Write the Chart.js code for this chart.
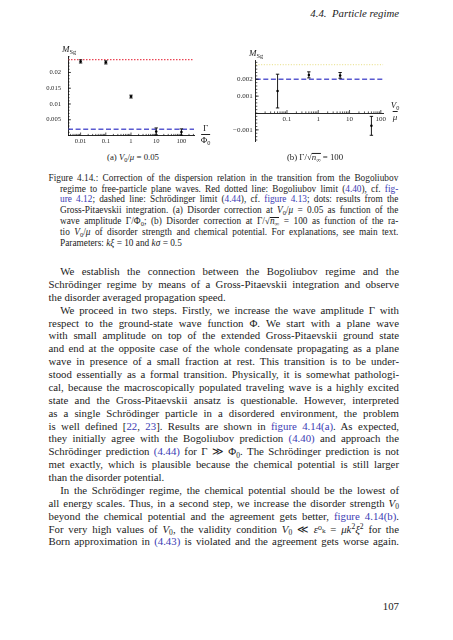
<!DOCTYPE html>
<html lang="en"><head><meta charset="utf-8">
<title>Figure 4.14</title>
<script src="https://cdn.jsdelivr.net/npm/chart.js@4.4.1/dist/chart.umd.min.js"></script>
<style>
html,body{margin:0;padding:0;background:#fff;}
body{width:453px;height:640px;position:relative;overflow:hidden;font-family:"Liberation Serif","Times New Roman",serif;color:#1c1c1c;}
canvas{position:absolute;}
.ln{position:absolute;white-space:normal;overflow:visible;}
.ln.j{text-align:justify;text-align-last:justify;}
.ln.l{text-align:left;text-align-last:left;}
.ln.meas{text-align:left !important;text-align-last:left !important;}
.bd{font-size:10.8px;line-height:13px;height:13px;}
.cp{font-size:9.3px;line-height:11px;height:11px;}
.lk{color:#3b3bb3;}
sub{font-size:70%;vertical-align:baseline;position:relative;top:0.3em;line-height:0;}
sup{font-size:70%;vertical-align:baseline;position:relative;top:-0.42em;line-height:0;}
.ov{display:inline-block;line-height:0.78em;border-top:0.7px solid currentColor;padding-top:0.4px;}
.idx{font-family:"DejaVu Serif",serif;font-size:90%;}
.lab{position:absolute;white-space:nowrap;line-height:1;}
.frac{position:absolute;display:flex;flex-direction:column;align-items:center;line-height:1;transform:translateX(-50%);font-size:9px;}
.frac .den{border-top:0.8px solid #222;padding-top:1px;margin-top:1px;}
</style></head>
<body>
<div class="lab" id="hdr" style="right:54px;top:8px;font-size:10.8px;font-style:italic;">4.4.&nbsp; Particle regime</div>

<canvas id="ca" width="230" height="112" style="left:0px;top:40px;"></canvas>
<canvas id="cb" width="233" height="115" style="left:220px;top:40px;"></canvas>

<div class="lab" style="left:62px;top:45px;font-size:9px;"><i>M</i><sub>Sg</sub></div>
<div class="frac" style="left:205.5px;top:124px;"><span>Γ</span><span class="den">Φ<sub>0</sub></span></div>
<div class="lab" style="left:249px;top:49px;font-size:9px;"><i>M</i><sub>Sg</sub></div>
<div class="frac" style="left:395px;top:101px;"><span><i>V</i><sub>0</sub></span><span class="den"><i>μ</i></span></div>

<div class="lab" style="left:133px;top:157.7px;font-size:8.8px;transform:translate(-50%,-55%);">(a) <i>V</i><sub>0</sub>/<i>μ</i> = 0.05</div>
<div class="lab" style="left:315px;top:157.7px;font-size:8.8px;transform:translate(-50%,-55%);">(b) Γ/√<span class="ov"><i>n</i><sub>∞</sub></span> = 100</div>

<div id="text"></div>
<div class="lab" style="right:54px;top:601px;font-size:10.8px;">107</div>

<script>
// ---------- chart data ----------
const catA = [0.01, 0.1, 1, 10, 100];              // Γ/Φ0
const valA = [0.0235, 0.0232, 0.01235, 0.0013, 0.0011];
const errA = [0.0005, 0.0005, 0.00045, 0.0011, 0.001];
const bogA = 0.0241;                               // red dotted (Bogoliubov limit)
const schA = 0.002;                                // blue dashed (Schrödinger limit)
const xTicksA = [0.01, 0.1, 1, 10, 100];
const xLabelsA = ['0.01', '0.1', '1', '10', '100'];
const yTicksA = [0.005, 0.01, 0.015, 0.02];
const yLabelsA = ['0.005', '0.01', '0.015', '0.02'];
const xRangeA = [0.00316, 316];
const yRangeA = [0, 0.025];

const catB = [0.05, 0.5, 5, 50];                   // V0/μ
const valB = [0.0013, 0.00226, 0.00223, -0.00076];
const errB = [0.001, 0.00018, 0.00017, 0.00056];
const bogB = 0.00287;                              // faint yellow dotted
const schB = 0.002;                                // blue dashed
const xTicksB = [0.1, 1, 10, 100];
const xLabelsB = ['0.1', '1', '10', '100'];
const yTicksB = [-0.001, 0.001, 0.002];
const yLabelsB = ['\u22120.001', '0.001', '0.002'];
const xRangeB = [0.01, 120];
const yRangeB = [-0.0017, 0.0031];

const RED = '#ea4656', BLUE = '#5a5ad0', YEL = '#ece5a0';

function minorLog(r){const o=[];for(let e=Math.floor(Math.log10(r[0]));e<=Math.ceil(Math.log10(r[1]));e++){for(let m=2;m<=9;m++){const v=m*Math.pow(10,e);if(v>r[0]&&v<r[1])o.push(v);}}return o;}
function minorLin(r,s){const o=[];for(let k=Math.ceil(r[0]/s);k*s<=r[1];k++)o.push(k*s);return o;}

const errPlugin = {
  id:'errbars',
  afterDatasetsDraw(chart){
    const ctx = chart.ctx, ys = chart.scales.y;
    chart.data.datasets.forEach((ds,i)=>{
      if(!ds.errors) return;
      const meta = chart.getDatasetMeta(i);
      ctx.save(); ctx.strokeStyle='#000'; ctx.lineWidth=0.9;
      meta.data.forEach((pt,j)=>{
        const v = ds.data[j].y, e = ds.errors[j];
        const y1 = ys.getPixelForValue(v+e), y2 = ys.getPixelForValue(v-e), x = pt.x;
        ctx.beginPath();
        ctx.moveTo(x,y1); ctx.lineTo(x,y2);
        ctx.moveTo(x-1.7,y1); ctx.lineTo(x+1.7,y1);
        ctx.moveTo(x-1.7,y2); ctx.lineTo(x+1.7,y2);
        ctx.stroke();
      });
      ctx.restore();
    });
  }
};
const tickPlugin = {
  id:'mmaTicks',
  afterDraw(chart, args, o){
    if(!o || !o.xMajor) return;
    const ctx = chart.ctx, xs = chart.scales.x, ys = chart.scales.y;
    const y0 = ys.getPixelForValue(o.xAxisAt), x0 = chart.chartArea.left;
    ctx.save(); ctx.strokeStyle='#111'; ctx.lineWidth=0.7; ctx.beginPath();
    o.xMajor.forEach(v=>{const x=xs.getPixelForValue(v);ctx.moveTo(x,y0);ctx.lineTo(x,y0-3);});
    o.xMinor.forEach(v=>{const x=xs.getPixelForValue(v);ctx.moveTo(x,y0);ctx.lineTo(x,y0-1.6);});
    o.yMajor.forEach(v=>{const y=ys.getPixelForValue(v);ctx.moveTo(x0,y);ctx.lineTo(x0+3,y);});
    o.yMinor.forEach(v=>{const y=ys.getPixelForValue(v);ctx.moveTo(x0,y);ctx.lineTo(x0+1.6,y);});
    ctx.stroke(); ctx.restore();
  }
};

function makeChart(id, p){
  return new Chart(document.getElementById(id), {
    type:'scatter',
    data:{datasets:[
      ...p.lines.map(l=>({data:[{x:p.xr[0],y:l.v},{x:p.xr[1],y:l.v}], showLine:true, borderColor:l.c, borderWidth:l.w, borderDash:l.d, pointRadius:0, order:3})),
      {data:p.cat.map((x,i)=>({x, y:p.val[i]})), errors:p.err, pointRadius:1.25, pointBackgroundColor:'#000', pointBorderWidth:0, order:1}
    ]},
    options:{
      responsive:false, animation:false, events:[],
      layout:{autoPadding:false, padding:p.pad},
      plugins:{legend:{display:false}, tooltip:{enabled:false}, mmaTicks:p.ticks},
      scales:{
        x:{type:'logarithmic', min:p.xr[0], max:p.xr[1], position:p.xpos,
           afterBuildTicks:s=>{s.ticks=p.xt.map(v=>({value:v}));},
           afterFit:s=>{s.height=p.xh;},
           grid:{display:false, drawTicks:false}, border:{display:true, color:'#111', width:0.9},
           ticks:{autoSkip:false, maxRotation:0, padding:p.xpadT, color:'#2a2a2a', font:{family:'Liberation Serif', size:p.fs}, callback:(v,i)=>p.xl[i]}},
        y:{type:'linear', min:p.yr[0], max:p.yr[1], position:'left',
           afterBuildTicks:s=>{s.ticks=p.yt.map(v=>({value:v}));},
           afterFit:s=>{s.width=p.yw;},
           grid:{display:false, drawTicks:false}, border:{display:true, color:'#111', width:0.9},
           ticks:{autoSkip:false, padding:p.ypadT, color:'#2a2a2a', font:{family:'Liberation Serif', size:p.fs}, callback:(v,i)=>p.yl[i]}}
      }
    },
    plugins:[errPlugin, tickPlugin]
  });
}

makeChart('ca', {cat:catA, val:valA, err:errA, xr:xRangeA, yr:yRangeA, xt:xTicksA, xl:xLabelsA, yt:yTicksA, yl:yLabelsA,
  lines:[{v:bogA,c:RED,w:1.3,d:[1.5,1.5]},{v:schA,c:BLUE,w:1.5,d:[5,2.6]}],
  pad:{left:0, top:16.7, right:36, bottom:0}, xh:16.5, yw:68, xpos:'bottom', fs:6.6, xpadT:1.5, ypadT:7,
  ticks:{xAxisAt:0, xMajor:xTicksA, xMinor:minorLog(xRangeA), yMajor:yTicksA, yMinor:minorLin(yRangeA,0.001)}});

makeChart('cb', {cat:catB, val:valB, err:errB, xr:xRangeB, yr:yRangeB, xt:xTicksB, xl:xLabelsB, yt:yTicksB, yl:yLabelsB,
  lines:[{v:bogB,c:YEL,w:1.1,d:[1.1,1.6]},{v:schB,c:BLUE,w:1.5,d:[5,2.6]}],
  pad:{left:0, top:20.7, right:69.7, bottom:13.3}, xh:0, yw:35.7, xpos:{y:0}, fs:7, xpadT:1.5, ypadT:3,
  ticks:{xAxisAt:0, xMajor:xTicksB, xMinor:minorLog(xRangeB), yMajor:yTicksB, yMinor:minorLin(yRangeB,0.0002)}});

// ---------- text ----------
const V0 = '<i>V</i><sub>0</sub>';
const LK = s => '<span class="lk">'+s+'</span>';
const SQ = '√<span class="ov"><i>n</i><sub>∞</sub></span>';
const captionLines = [
 ['f','Figure 4.14.: Correction of the dispersion relation in the transition from the Bogoliubov'],
 ['c','regime to free-particle plane waves. Red dotted line: Bogoliubov limit ('+LK('4.40')+'), cf. '+LK('fig-')],
 ['c',LK('ure 4.12')+'; dashed line: Schrödinger limit ('+LK('4.44')+'), cf. '+LK('figure 4.13')+'; dots: results from the'],
 ['c','Gross-Pitaevskii integration. (a) Disorder correction at '+V0+'/<i>μ</i> = 0.05 as function of the'],
 ['c','wave amplitude Γ/Φ<sub>0</sub>; (b) Disorder correction at Γ/'+SQ+' = 100 as function of the ra-'],
 ['c','tio '+V0+'/<i>μ</i> of disorder strength and chemical potential. For explanations, see main text.'],
 ['cl','Parameters: <i>kξ</i> = 10 and <i>kσ</i> = 0.5']
];
const bodyLines = [
 ['i','We establish the connection between the Bogoliubov regime and the'],
 ['j','Schrödinger regime by means of a Gross-Pitaevskii integration and observe'],
 ['l','the disorder averaged propagation speed.'],
 ['i','We proceed in two steps. Firstly, we increase the wave amplitude Γ with'],
 ['j','respect to the ground-state wave function Φ. We start with a plane wave'],
 ['j','with small amplitude on top of the extended Gross-Pitaevskii ground state'],
 ['j','and end at the opposite case of the whole condensate propagating as a plane'],
 ['j','wave in presence of a small fraction at rest. This transition is to be under-'],
 ['j','stood essentially as a formal transition. Physically, it is somewhat pathologi-'],
 ['j','cal, because the macroscopically populated traveling wave is a highly excited'],
 ['j','state and the Gross-Pitaevskii ansatz is questionable. However, interpreted'],
 ['j','as a single Schrödinger particle in a disordered environment, the problem'],
 ['j','is well defined ['+LK('22')+', '+LK('23')+']. Results are shown in '+LK('figure 4.14(a)')+'. As expected,'],
 ['j','they initially agree with the Bogoliubov prediction '+LK('(4.40)')+' and approach the'],
 ['j','Schrödinger prediction '+LK('(4.44)')+' for Γ ≫ Φ<sub>0</sub>. The Schrödinger prediction is not'],
 ['j','met exactly, which is plausible because the chemical potential is still larger'],
 ['l','than the disorder potential.'],
 ['i','In the Schrödinger regime, the chemical potential should be the lowest of'],
 ['j','all energy scales. Thus, in a second step, we increase the disorder strength '+V0],
 ['j','beyond the chemical potential and the agreement gets better, '+LK('figure 4.14(b)')+'.'],
 ['j','For very high values of '+V0+', the validity condition '+V0+' ≪ <i>ε</i><span class="idx">⁰ₖ</span> = <i>μk</i><sup>2</sup><i>ξ</i><sup>2</sup> for the'],
 ['j','Born approximation in '+LK('(4.43)')+' is violated and the agreement gets worse again.']
];
const host = document.getElementById('text');
function addLine(cls, left, width, top, html){
  const d = document.createElement('div');
  d.className = 'ln '+cls;
  d.style.left = left+'px'; d.style.width = width+'px'; d.style.top = top+'px';
  const s = document.createElement('span'); s.innerHTML = html; d.appendChild(s);
  host.appendChild(d);
}
captionLines.forEach((l,i)=>{
  const c = 178.3 + i*10.83, top = c - 5.6;
  if(l[0]==='f') addLine('cp j', 48.5, 349.8, top, l[1]);
  else if(l[0]==='c') addLine('cp j', 60, 338.3, top, l[1]);
  else addLine('cp l', 60, 338.3, top, l[1]);
});
bodyLines.forEach((l,i)=>{
  const c = 271.7 + i*12.87, top = c - 6.6;
  if(l[0]==='i') addLine('bd j', 60.2, 338.8, top, l[1]);
  else if(l[0]==='j') addLine('bd j', 48.5, 350.5, top, l[1]);
  else addLine('bd l', 48.5, 350.5, top, l[1]);
});
function fit(){
  document.querySelectorAll('.ln').forEach(el=>{
    el.style.fontSize = '';
    const sp = el.firstElementChild;
    el.classList.add('meas');
    sp.style.whiteSpace = 'nowrap';
    const target = el.getBoundingClientRect().width;
    let fs = parseFloat(getComputedStyle(el).fontSize);
    let w = sp.getBoundingClientRect().width, it = 0;
    while(w > target - 0.3 && it < 30){ fs -= 0.1; el.style.fontSize = fs+'px'; w = sp.getBoundingClientRect().width; it++; }
    sp.style.whiteSpace = '';
    el.classList.remove('meas');
  });
}
fit();
if(document.fonts && document.fonts.ready) document.fonts.ready.then(fit);
</script>
</body></html>
